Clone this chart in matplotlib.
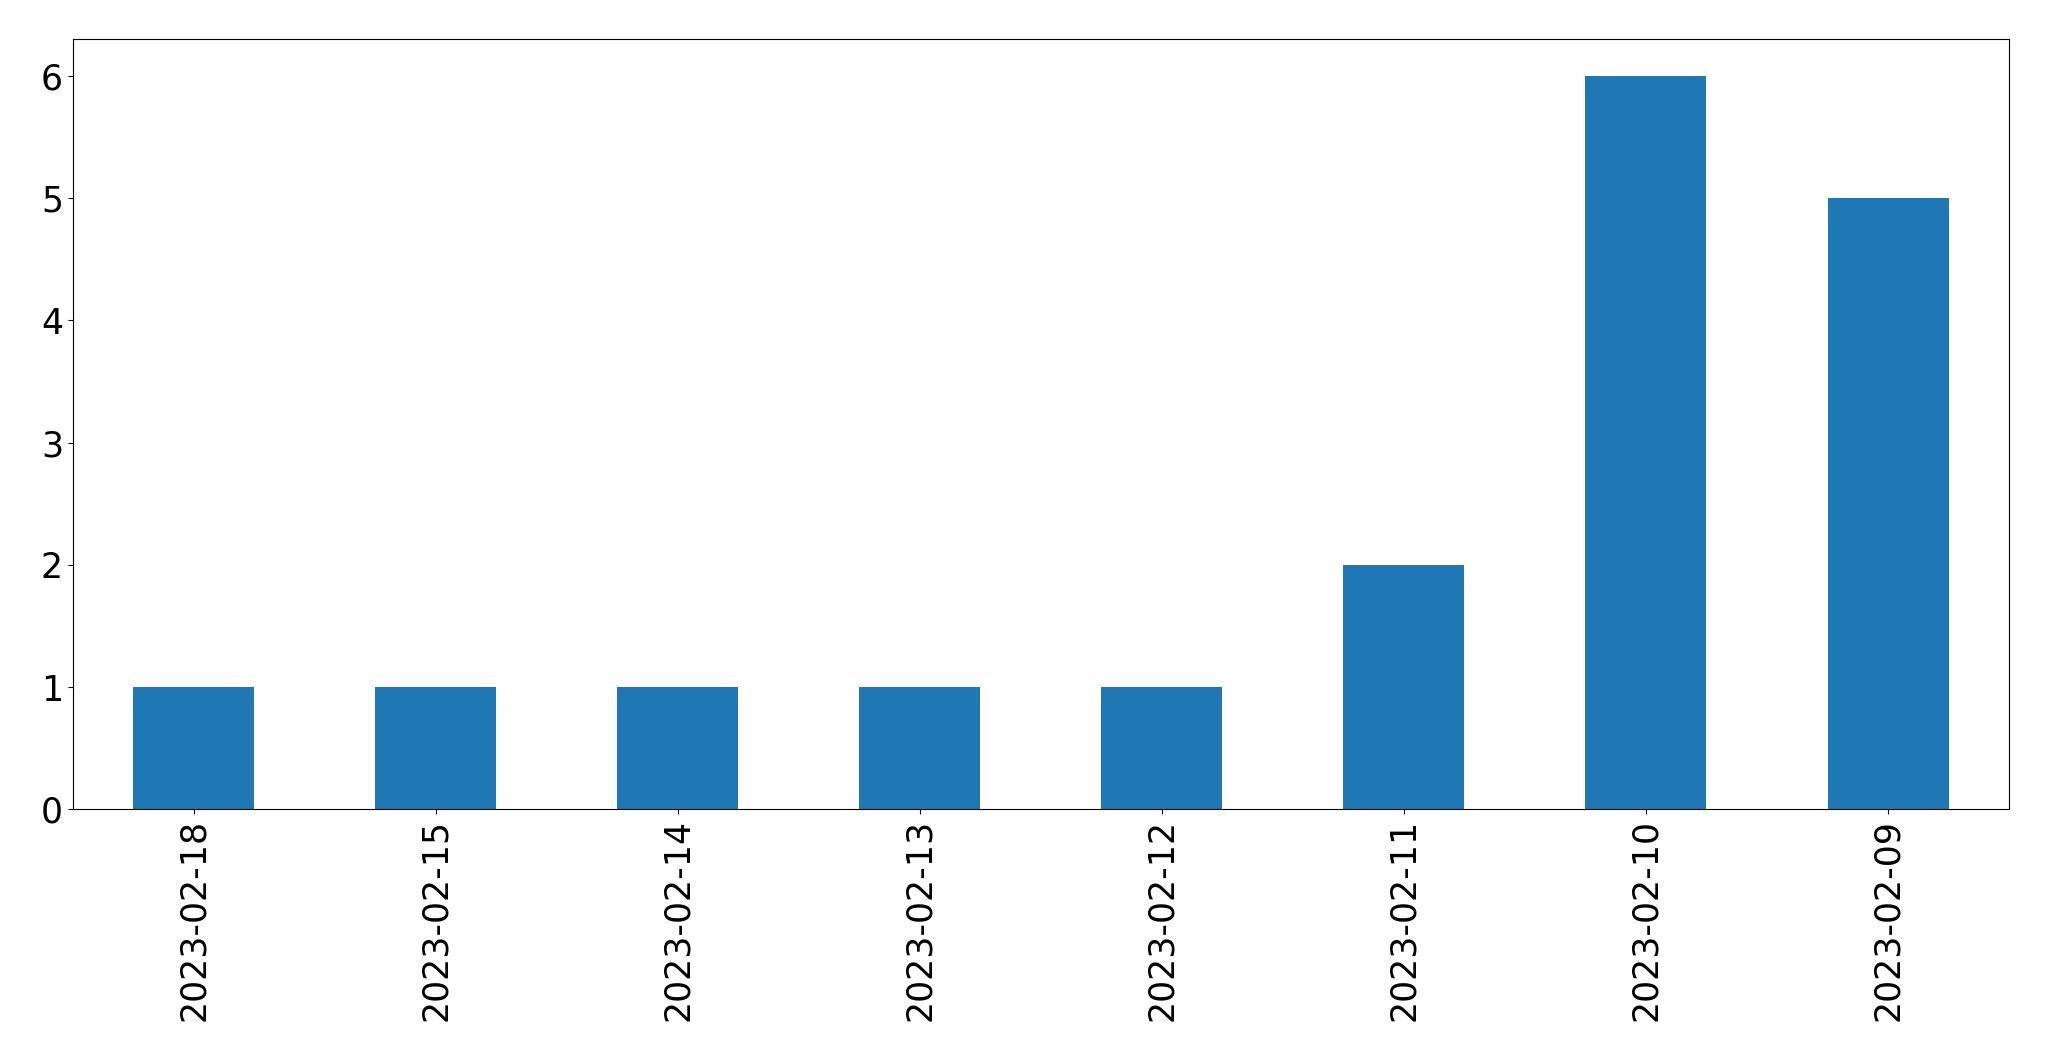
import matplotlib
matplotlib.use("Agg")
import matplotlib.pyplot as plt
import pandas as pd

dates = ["2023-02-18", "2023-02-15", "2023-02-14", "2023-02-13",
         "2023-02-12", "2023-02-11", "2023-02-10", "2023-02-09"]
counts = [1, 1, 1, 1, 1, 2, 6, 5]

s = pd.Series(counts, index=dates)

fig = plt.figure(figsize=(20.49, 10.61), dpi=100)
ax = fig.add_axes([0.0355, 0.2372, 0.945, 0.7258])
s.plot.bar(ax=ax, color="#1f77b4", fontsize=25)
ax.set_xlabel("")

fig.savefig("out.png", dpi=100)
